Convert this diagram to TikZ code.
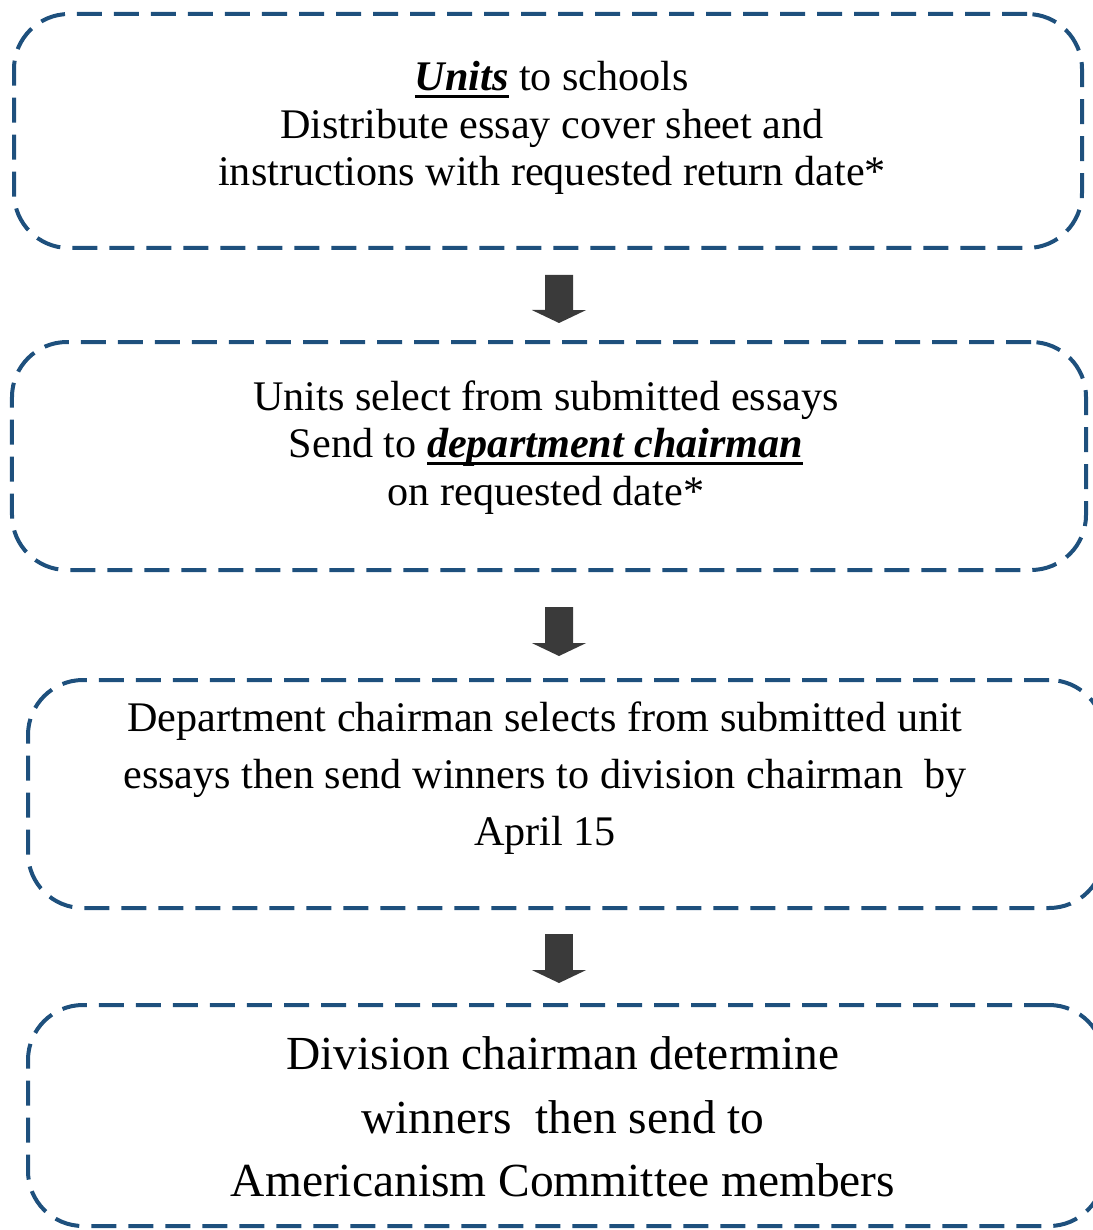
\documentclass[tikz,border=0pt]{standalone}
\usepackage{fontspec}
\setmainfont{Liberation Serif}
\usepackage{tikz}
\usetikzlibrary{calc}
\usetikzlibrary{arrows.meta}
\definecolor{boxblue}{RGB}{30,80,125}
\definecolor{arrowgray}{RGB}{58,58,58}
\newcommand{\heavyul}[1]{\setbox0\hbox{#1}\rlap{\rule[-4pt]{\wd0}{1.5pt}}\box0\relax}

\begin{document}
\begin{tikzpicture}[
		essaybox/.style={draw=boxblue, line width=0.08cm, dash pattern=on 0.5cm off 0.24cm, rounded corners=1.1cm, inner sep=0pt},
		steptext/.style={align=center, inner sep=0pt},
		bigarrow/.style={draw=arrowgray, line width=0.56cm, -{Triangle[width=1.08cm,length=0.26cm]}}]
				\useasboundingbox (0,0) rectangle (21.86,-24.6);
				
				% the four boxes
				\node[essaybox, minimum width=21.36cm, minimum height=4.68cm] (b1) at (10.96,-2.62) {};
				\node[essaybox, minimum width=21.48cm, minimum height=4.56cm] (b2) at (10.98,-9.12) {};
				\node[essaybox, minimum width=21.52cm, minimum height=4.56cm] (b3) at (11.32,-15.88) {};
				\node[essaybox, minimum width=21.52cm, minimum height=4.42cm] (b4) at (11.32,-22.31) {};
				
				% texts
				\node[steptext, font=\fontsize{24}{27}\selectfont] (t1) at (11.04,-2.56)
					{\heavyul{\textbf{\textit{Units}}} to schools\\Distribute essay cover sheet and\\instructions with requested return date*};
				\node[steptext, font=\fontsize{24}{27}\selectfont] (t2) at (10.92,-8.95)
					{Units select from submitted essays\\Send to \heavyul{\textbf{\textit{department chairman}}}\\on requested date*};
				\node[steptext, font=\fontsize{24}{32.4}\selectfont] (t3) at (10.9,-15.56)
					{Department chairman selects from submitted unit\\essays then send winners to division chairman\ \ by\\April 15};
				\node[steptext, font=\fontsize{27}{36}\selectfont] (t4) at (11.26,-22.34)
					{Division chairman determine\\winners\ \ then send to\\Americanism Committee members};
				
				% arrows between the boxes
				\draw[bigarrow] ([xshift=0.22cm,yshift=-0.5cm]b1.south) -- ([xshift=0.2cm,yshift=0.34cm]b2.north);
				\draw[bigarrow] ([xshift=0.2cm,yshift=-0.7cm]b2.south) -- ([xshift=-0.14cm,yshift=0.44cm]b3.north);
				\draw[bigarrow] ([xshift=-0.14cm,yshift=-0.48cm]b3.south) -- ([xshift=-0.14cm,yshift=0.4cm]b4.north);
\end{tikzpicture}
\end{document}
